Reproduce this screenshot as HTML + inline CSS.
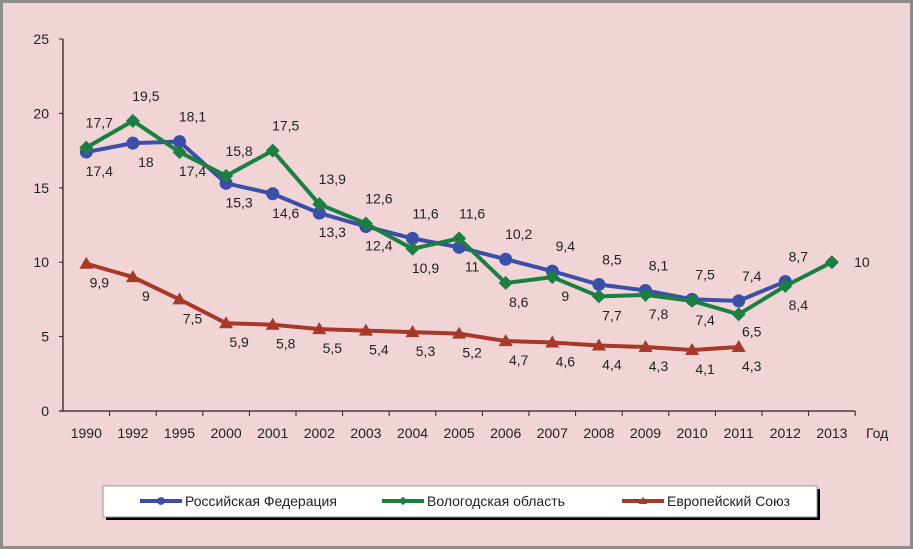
<!DOCTYPE html>
<html><head><meta charset="utf-8"><style>
body{margin:0;background:#fff}
svg{display:block;font-family:"Liberation Sans","DejaVu Sans",sans-serif}
</style></head><body>
<svg width="913" height="549">
<rect x="1.5" y="1.5" width="910" height="546" fill="#f0d4d6" stroke="#8c8c8c" stroke-width="3"/>
<g id="axes"></g><g id="series"></g>
<g>
<rect x="106" y="489" width="714" height="31" fill="#000"/>
<rect x="103" y="486" width="714" height="31" fill="#fff" stroke="#999"/>
</g>
<g id="legend"></g>
</svg>
<script>
const categories=["1990","1992","1995","2000","2001","2002","2003","2004","2005","2006","2007","2008","2009","2010","2011","2012","2013"];
const rfValues=[17.4,18,18.1,15.3,14.6,13.3,12.4,11.6,11,10.2,9.4,8.5,8.1,7.5,7.4,8.7,null];
const voValues=[17.7,19.5,17.4,15.8,17.5,13.9,12.6,10.9,11.6,8.6,9,7.7,7.8,7.4,6.5,8.4,10];
const euValues=[9.9,9,7.5,5.9,5.8,5.5,5.4,5.3,5.2,4.7,4.6,4.4,4.3,4.1,4.3,null,null];
const yTicks=[0,5,10,15,20,25];
const seriesNames=["Российская Федерация","Вологодская область","Европейский Союз"];
const NS="http://www.w3.org/2000/svg";
const X0=63,STEP=46.6,Y0=411,Y25=39;
const xs=i=>X0+STEP*(i+0.5);
const ys=v=>Y0-(v/25)*(Y0-Y25);
function mk(tag,attrs,parent,text){const e=document.createElementNS(NS,tag);for(const k in attrs)e.setAttribute(k,attrs[k]);if(text!=null)e.textContent=text;parent.appendChild(e);return e;}
const ax=document.getElementById('axes');
let yl=mk('line',{x1:X0,y1:Y25,x2:X0,y2:Y0,stroke:'#222','stroke-width':1.3},ax);


let xl=mk('line',{x1:X0-4,y1:Y0,x2:X0+STEP*categories.length,y2:Y0,stroke:'#222','stroke-width':1.3},ax);


yTicks.forEach(t=>{
 mk('line',{x1:X0-4,x2:X0,y1:ys(t),y2:ys(t),stroke:'#222'},ax);
 const e=mk('text',{x:X0-14,y:ys(t)+5,'text-anchor':'end','font-size':14,fill:'#222'},ax,String(t));
 
 
});
categories.forEach((c,i)=>{
 mk('line',{x1:X0+STEP*(i+1),x2:X0+STEP*(i+1),y1:Y0,y2:Y0+5,stroke:'#222'},ax);
 const e=mk('text',{x:xs(i),y:Y0+27,'text-anchor':'middle','font-size':14,fill:'#222'},ax,c);
 
 
});
const yt=mk('text',{x:866,y:Y0+27,'font-size':14,fill:'#222'},ax,'Год');


const sg=document.getElementById('series');
function marker(type,x,y,color,g){
 if(type==='circle')return mk('circle',{cx:x,cy:y,r:6.5,fill:color},g);
 if(type==='diamond')return mk('polygon',{points:`${x},${y-7} ${x+7},${y} ${x},${y+7} ${x-7},${y}`,fill:color},g);
 return mk('polygon',{points:`${x},${y-7} ${x+7},${y+5} ${x-7},${y+5}`,fill:color},g);
}
function drawSeries(vals,color,type,name,other,isEU){
 const g=mk('g',{},sg);
 
 
 const pts=[];vals.forEach((v,i)=>{if(v!=null)pts.push(xs(i)+','+ys(v));});
 mk('polyline',{points:pts.join(' '),fill:'none',stroke:color,'stroke-width':4,'stroke-linejoin':'round'},g);
 vals.forEach((v,i)=>{
  if(v==null)return;
  const m=marker(type,xs(i),ys(v),color,g);
  
  
  let lx=xs(i)+13,ly;
  const o=other?other[i]:null;
  if(isEU||(o!=null&&v<o))ly=ys(v)+24;
  else if(o==null&&!isEU){lx=xs(i)+30;ly=ys(v)+5;}
  else ly=ys(v)-20;
  if(!isEU&&categories[i]==='2011'&&o!=null&&v<o)ly=ys(v)+22;
  const t=mk('text',{x:lx,y:ly,'text-anchor':'middle','font-size':14,fill:'#222'},g,String(v).replace('.',','));
  
  
 });
}
drawSeries(rfValues,'#3b4fa8','circle','series-russia',voValues,false);
drawSeries(voValues,'#1a8040','diamond','series-vologda',rfValues,false);
drawSeries(euValues,'#a83828','triangle','series-eu',null,true);
const lg=document.getElementById('legend');
const colors=['#3b4fa8','#1a8040','#a83828'],types=['circle','diamond','triangle'],lx=[140,382,622];
seriesNames.forEach((n,i)=>{
 const g=mk('g',{},lg);
 
 
 mk('line',{x1:lx[i],x2:lx[i]+42,y1:501,y2:501,stroke:colors[i],'stroke-width':4},g);
 const m=marker(types[i],lx[i]+21,501,colors[i],g);
 m.setAttribute('transform',`translate(${lx[i]+21},501) scale(0.6) translate(${-(lx[i]+21)},-501)`);
 mk('text',{x:lx[i]+45,y:506,'font-size':14,fill:'#222'},g,n);
});
</script>
</body></html>
